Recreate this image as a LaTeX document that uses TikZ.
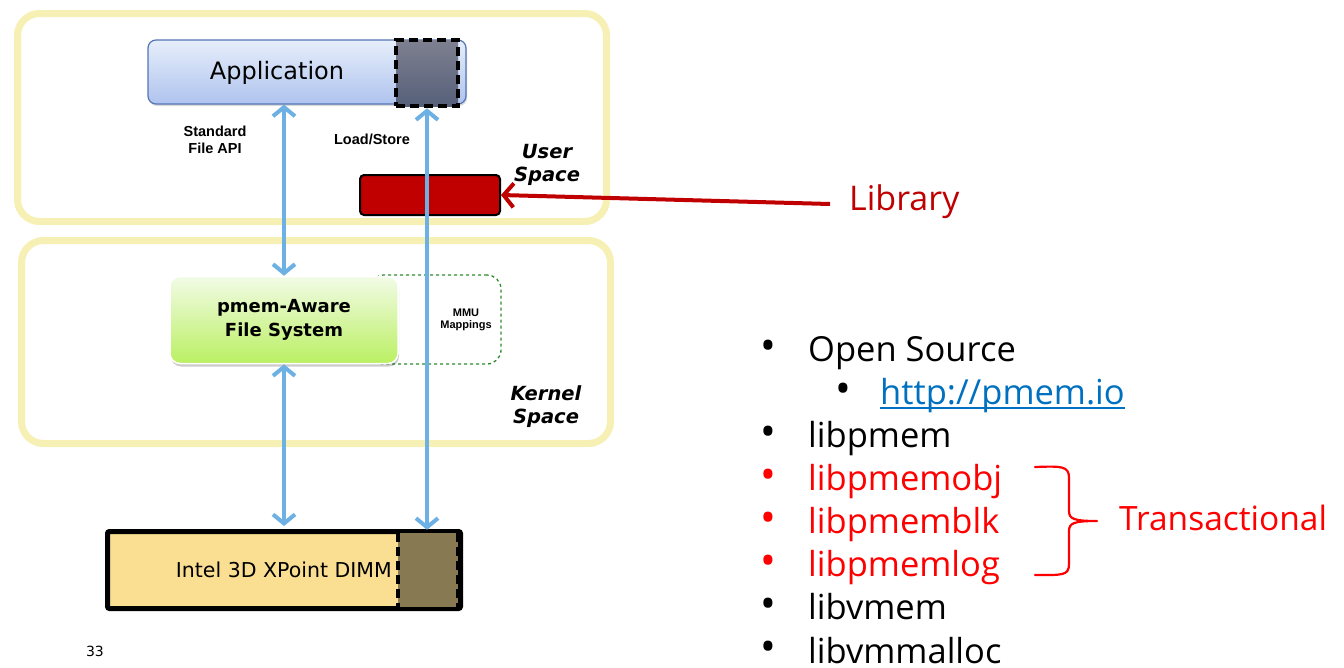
\documentclass[tikz,border=0pt]{standalone}
\usepackage{fontspec}
\setmainfont{DejaVu Sans}
\newfontfamily\arialfont{Liberation Sans}
\newfontfamily\clearfont{Open Sans}
\usetikzlibrary{arrows.meta,shadows,calc}

\definecolor{spaceyellow}{HTML}{F6F0B4}
\definecolor{appborder}{HTML}{5575B5}
\definecolor{apptop}{HTML}{E6EEFB}
\definecolor{appbot}{HTML}{AFC3EE}
\definecolor{darktop}{HTML}{7E8090}
\definecolor{darkbot}{HTML}{56607A}
\definecolor{libred}{HTML}{C00000}
\definecolor{fstop}{HTML}{F2FBE6}
\definecolor{fsbot}{HTML}{BAF062}
\definecolor{mmugreen}{HTML}{2E8B2E}
\definecolor{dimmfill}{HTML}{FADF92}
\definecolor{dimmdarkfill}{HTML}{877A52}
\definecolor{arrowblue}{HTML}{6CB0E4}
\definecolor{listred}{HTML}{FF0000}
\definecolor{linkblue}{HTML}{0070C0}

\tikzset{
  spacebox/.style={draw=spaceyellow, line width=7pt, fill=white, rounded corners=22pt,
    inner sep=0pt,
    drop shadow={shadow xshift=1pt, shadow yshift=-3pt, fill=black, opacity=0.18}},
  barrow/.style={draw=arrowblue, line width=4pt,
    {Straight Barb[length=9pt,width=22pt]}-{Straight Barb[length=9pt,width=22pt]}},
  rarrow/.style={draw=libred, line width=4pt, -{Straight Barb[length=10pt,width=24pt]}},
  smalllabel/.style={font=\arialfont\bfseries\fontsize{14.5}{16.5}\selectfont, align=center, inner sep=0pt},
  spacelabel/.style={font=\bfseries\itshape\fontsize{19.5}{23}\selectfont, align=center, inner sep=0pt},
  listitem/.style={anchor=base west, inner sep=0pt, font=\clearfont\fontsize{34.5}{38}\selectfont},
  bulletmark/.style={anchor=center, inner sep=0pt, font=\clearfont\fontsize{42}{44}\selectfont},
  thickdash/.style={draw=black, line width=4.5pt, dash pattern=on 9pt off 5pt},
}

\begin{document}
\begin{tikzpicture}[x=1pt,y=-1pt]
\useasboundingbox (0,0) rectangle (1344,667);

% user and kernel space frames
\node[spacebox, minimum width=589pt, minimum height=208pt] (user) at (312,117.5) {};
\node[spacebox, minimum width=589pt, minimum height=203pt] (kernel) at (316,342) {};

% application with its mapped region
\node[draw=appborder, line width=1.2pt, top color=apptop, bottom color=appbot,
      rounded corners=8pt, minimum width=318pt, minimum height=64pt, inner sep=0pt,
      drop shadow={shadow xshift=1pt, shadow yshift=-2pt, fill=black, opacity=0.15}]
      (app) at (307,72) {};
\node[anchor=center, inner sep=0pt, font=\fontsize{24}{27}\selectfont] (apptxt) at (277,73) {Application};
\node[thickdash, top color=darktop, bottom color=darkbot, minimum width=62pt,
      minimum height=66pt, inner sep=0pt] (appdark) at (427,73) {};

% library block
\node[draw=black, line width=2pt, fill=libred, rounded corners=4pt,
      minimum width=140pt, minimum height=40pt, inner sep=0pt] (lib) at (430,195) {};

% MMU mappings outline (behind the file system)
\node[draw=mmugreen, line width=1.3pt, dashed, rounded corners=14pt,
      minimum width=131pt, minimum height=89pt, inner sep=0pt] (mmu) at (435.5,319.5) {};
\node[smalllabel, font=\arialfont\bfseries\fontsize{11}{12.5}\selectfont] (mmutxt) at (466,320) {MMU\\Mappings};

% pmem-aware file system
\node[draw=white, line width=1.5pt, top color=fstop, bottom color=fsbot,
      rounded corners=10pt, minimum width=228pt, minimum height=87pt, inner sep=0pt,
      align=center, font=\bfseries\fontsize{18}{24}\selectfont,
      drop shadow={shadow xshift=1pt, shadow yshift=-3pt, fill=black, opacity=0.2}]
      (fs) at (284,320) {pmem-Aware\\File System};

% persistent memory DIMM
\node[draw=black, line width=5pt, fill=dimmfill, rounded corners=2pt,
      minimum width=353pt, minimum height=77pt, inner sep=0pt] (dimm) at (284,570) {};
\node[fill=dimmdarkfill, minimum width=60pt, minimum height=74pt, inner sep=0pt] (dimmdark) at (428,570) {};
\draw[thickdash] (dimmdark.north west) -- (dimmdark.south west);
\draw[thickdash] (dimmdark.north east) -- (dimmdark.south east);
\node[anchor=east, inner sep=0pt, font=\fontsize{20.5}{23}\selectfont] (dimmtxt) at (392,570) {Intel 3D XPoint DIMM};

% labels
\node[smalllabel] (stdapi) at (215,140) {Standard\\File API};
\node[smalllabel] (ldst) at (372,139) {Load/Store};
\node[spacelabel] (usertxt) at (547,165) {User\\Space};
\node[spacelabel] (kerneltxt) at (546,407) {Kernel\\Space};
\node[anchor=center, inner sep=0pt, font=\fontsize{14}{16}\selectfont] (pagenum) at (95,651) {33};

% data paths
\draw[barrow] (fs.north |- app.south) -- (fs.north);
\draw[barrow, shorten >=3pt] (fs.south) -- (fs.south |- dimm.north);
\draw[barrow, shorten >=3pt] (appdark.south) -- (appdark.south |- dimmdark.north);

% library callout
\node[anchor=west, inner sep=0pt, text=libred, font=\clearfont\fontsize{34}{36}\selectfont] (libtxt) at (849,202) {Library};
\draw[rarrow] ([xshift=-19pt,yshift=-2pt]libtxt.west) -- (lib.east);

% library list
\node[bulletmark] (b1) at (768,350) {\textbullet};
\node[listitem] (l1) at (808,361) {Open Source};
\node[bulletmark] (b2) at (843,393) {\textbullet};
\node[listitem, text=linkblue] (l2) at (880,404) {http://pmem.io};
\draw[linkblue, line width=2pt] ([yshift=-4pt]l2.base west) -- ([yshift=-4pt]l2.base east);
\node[bulletmark] (b3) at (768,436) {\textbullet};
\node[listitem] (l3) at (808,447) {libpmem};
\node[bulletmark, text=listred] (b4) at (768,479) {\textbullet};
\node[listitem, text=listred] (l4) at (808,490) {libpmemobj};
\node[bulletmark, text=listred] (b5) at (768,522) {\textbullet};
\node[listitem, text=listred] (l5) at (808,533) {libpmemblk};
\node[bulletmark, text=listred] (b6) at (768,565) {\textbullet};
\node[listitem, text=listred] (l6) at (808,576) {libpmemlog};
\node[bulletmark] (b7) at (768,608) {\textbullet};
\node[listitem] (l7) at (808,619) {libvmem};
\node[bulletmark] (b8) at (768,651) {\textbullet};
\node[listitem] (l8) at (808,663) {libvmmalloc};

% transactional group brace
\coordinate (bt) at (1035,467);
\coordinate (bb) at (1035,575);
\coordinate (btip) at (1097,521);
\draw[listred, line width=2.2pt, line cap=round]
  (bt) .. controls (1062,466) and (1069,466) .. (1069,478) -- (1069,511)
  .. controls (1069,519) and (1074,521) .. (btip)
  (btip) .. controls (1074,521) and (1069,523) .. (1069,531) -- (1069,564)
  .. controls (1069,576) and (1062,575) .. (bb);
\node[anchor=west, inner sep=0pt, text=listred, font=\clearfont\fontsize{33.5}{36}\selectfont] (trans) at (1119,518) {Transactional};
\end{tikzpicture}
\end{document}
